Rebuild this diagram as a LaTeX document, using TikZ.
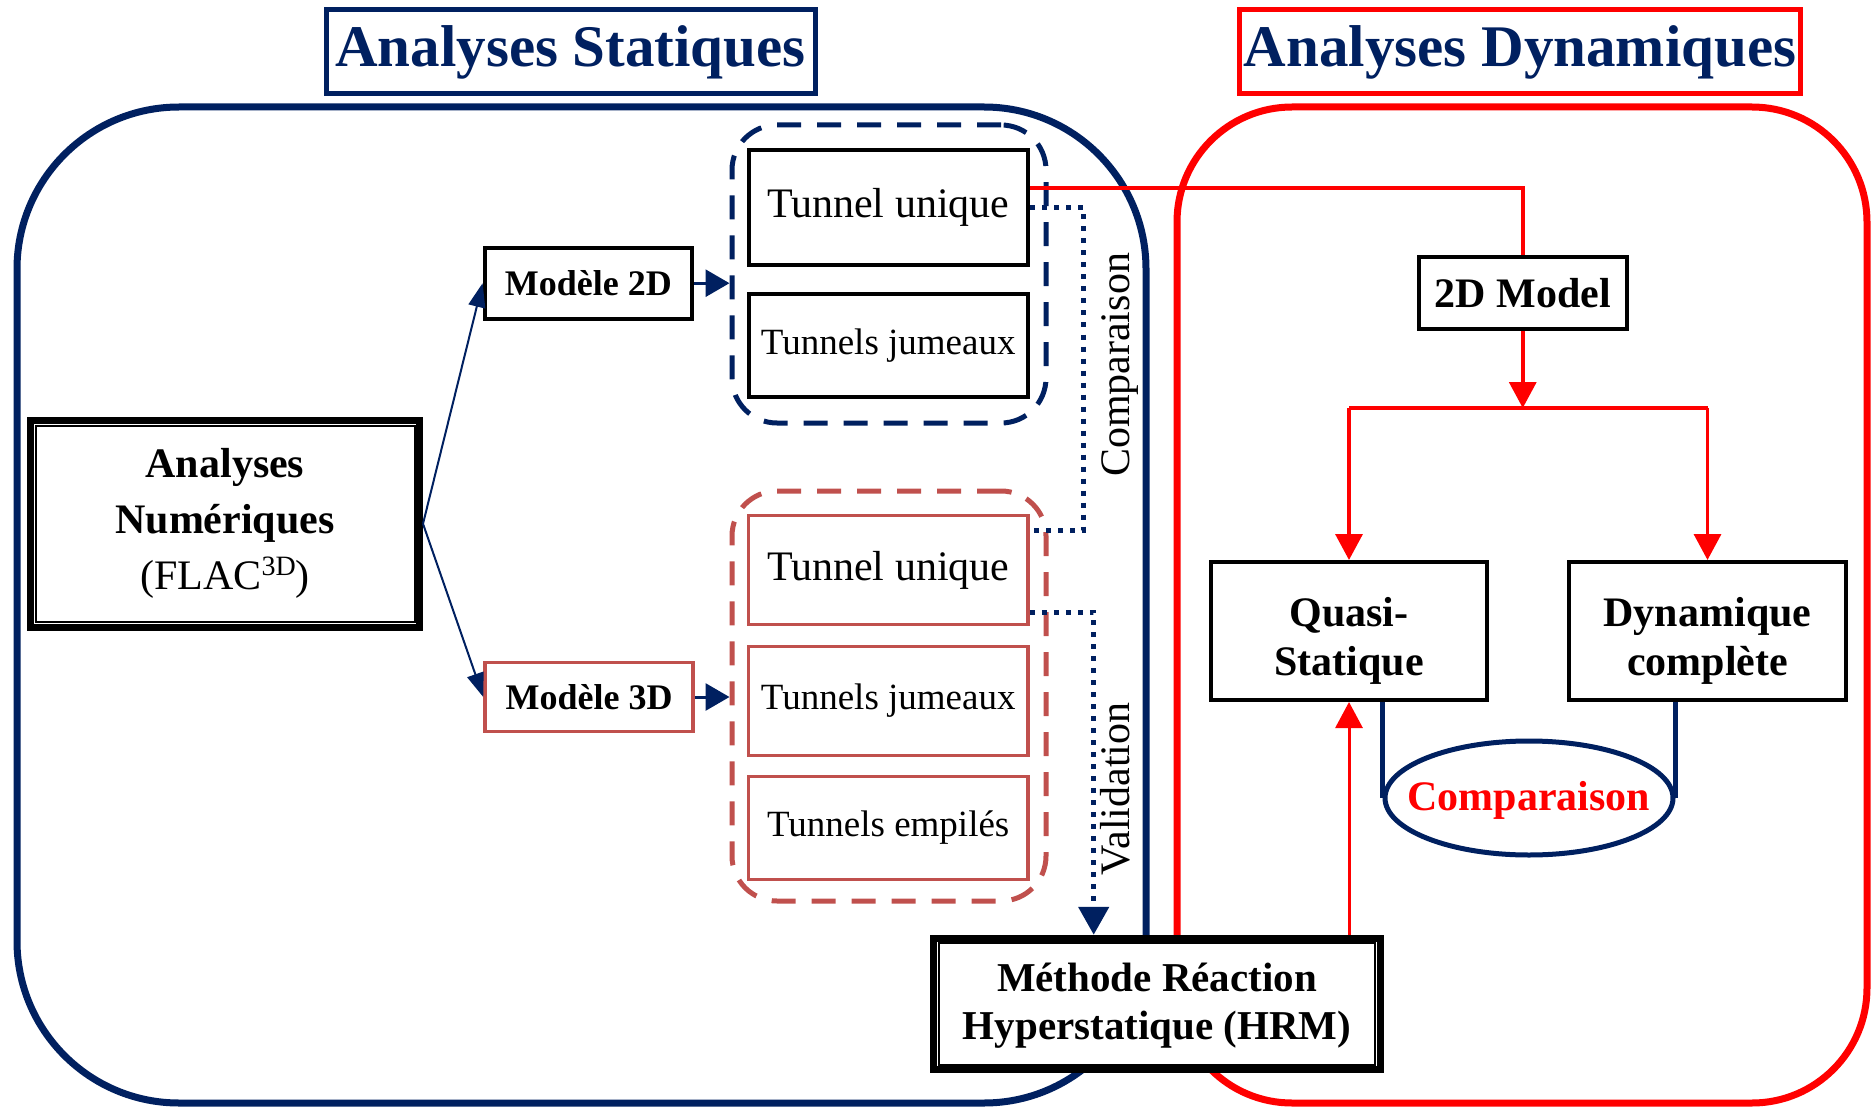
\documentclass[tikz,border=0pt]{standalone}
\usepackage{fontspec}
\setmainfont{Liberation Serif}
\usetikzlibrary{arrows.meta,shapes.geometric,calc}
\definecolor{navy}{HTML}{002060}
\definecolor{brick}{HTML}{C0504D}
\definecolor{pured}{HTML}{FF0000}
\begin{document}
\begin{tikzpicture}[x=1pt,y=-1pt,
  box/.style={draw=black, line width=4pt, fill=white, inner sep=0pt, align=center},
  redbox/.style={box, draw=brick, line width=3.5pt},
  titlebox/.style={line width=5pt, inner sep=0pt, text=navy, fill=white, font=\bfseries\fontsize{59}{62}\selectfont},
  fbig/.style={font=\fontsize{42}{50}\selectfont},
  fsmall/.style={font=\fontsize{37}{44}\selectfont},
  fbold/.style={font=\bfseries\fontsize{42}{49}\selectfont},
  plaintext/.style={inner sep=0pt, align=center},
  groupbox/.style={line width=5pt, dash pattern=on 24pt off 16pt, rounded corners=45pt, inner sep=0pt},
  dotline/.style={navy, line width=5pt, dash pattern=on 5pt off 7pt},
  navyarrow/.style={navy, line width=3pt, -{Triangle[length=24pt,width=27pt]}},
  thinarrow/.style={navy, line width=2pt, -{Triangle[length=24pt,width=17pt]}},
  redline/.style={pured, line width=3.5pt},
  redarrow/.style={pured, line width=3.5pt, -{Triangle[length=26pt,width=27pt]}},
  sidelabel/.style={rotate=90, anchor=base, inner sep=0pt, font=\fontsize{42}{50}\selectfont},
  innerframe/.style={line width=2pt}
]
\useasboundingbox (0,0) rectangle (1874,1107);

% big panels
\draw[navy, line width=7pt, rounded corners=162pt] (17,107) rectangle (1146,1103);
\draw[pured, line width=7pt, rounded corners=115pt] (1177,107) rectangle (1867,1103);

% titles
\node[titlebox, draw=navy, minimum width=489pt, minimum height=84pt] (ts) at (570.5,52) {Analyses Statiques};
\node[titlebox, draw=pured, minimum width=561pt, minimum height=84pt] (td) at (1520,52) {Analyses Dynamiques};

% left part
\node[box, line width=7pt, minimum width=389pt, minimum height=206.5pt, font=\fontsize{42}{56}\selectfont] (an) at (225,523.75)
  {\textbf{Analyses}\\\textbf{Numériques}\\(FLAC\raisebox{14pt}{\fontsize{28}{30}\selectfont 3D})};
\draw[innerframe] ($(an.north west)+(8.5,8.5)$) rectangle ($(an.south east)+(-8.5,-8.5)$);

\node[box, minimum width=207.6pt, minimum height=71pt, font=\bfseries\fontsize{36}{40}\selectfont] (m2d) at (588.4,283.2) {Modèle 2D};
\node[redbox, minimum width=208pt, minimum height=69pt, font=\bfseries\fontsize{36}{40}\selectfont] (m3d) at (589,697) {Modèle 3D};

\node[groupbox, draw=navy, minimum width=314pt, minimum height=298pt] (g2d) at (889,274) {};
\node[groupbox, draw=brick, minimum width=314pt, minimum height=410pt] (g3d) at (889,696) {};

\node[box, fbig, minimum width=279.5pt, minimum height=115pt] (tu1) at (888.25,207.5) {Tunnel unique};
\node[box, fsmall, minimum width=279.5pt, minimum height=103pt] (tj1) at (888.25,345.5) {Tunnels jumeaux};
\node[redbox, fbig, minimum width=279.5pt, minimum height=109pt] (tu2) at (888.25,570) {Tunnel unique};
\node[redbox, fsmall, minimum width=279.5pt, minimum height=109pt] (tj2) at (888.25,701) {Tunnels jumeaux};
\node[redbox, fsmall, minimum width=279.5pt, minimum height=103pt] (te2) at (888.25,828) {Tunnels empilés};

\draw[thinarrow] (an.east) -- (m2d.west);
\draw[thinarrow] (an.east) -- (m3d.west);
\draw[navyarrow] (m2d.east) -- (m2d.east -| g2d.west);
\draw[navyarrow] (m3d.east) -- (m3d.east -| g3d.west);

% HRM
\node[box, line width=7pt, minimum width=446.5pt, minimum height=131.5pt] (hrm) at (1157,1004) {};
\draw[innerframe] ($(hrm.north west)+(8.5,8.5)$) rectangle ($(hrm.south east)+(-8.5,-8.5)$);
\node[plaintext, font=\bfseries\fontsize{41}{48}\selectfont] (hrmt) at ($(hrm.center)+(0,2)$) {Méthode Réaction\\Hyperstatique (HRM)};

% comparison / validation dotted links
\draw[dotline] (tu1.east) -- ++(53,0) |- ([yshift=40pt]tu2.east);
\coordinate (vx) at (1093.7,0);
\draw[dotline, -{Triangle[length=28pt,width=30pt]}] ([yshift=-42pt]tu2.east) -| (vx |- hrm.north);
\node[sidelabel] (lc) at (1129,365) {Comparaison};
\node[sidelabel] (lv) at (1129,789) {Validation};

% right part
\node[box, fbold, minimum width=208.5pt, minimum height=71.5pt] (m2dm) at (1522.75,293.25) {2D Model};
\node[box, minimum width=276pt, minimum height=138pt] (qs) at (1349,631) {};
\node[plaintext, fbold] (qst) at ($(qs.center)+(0,10)$) {Quasi-\\Statique};
\node[box, minimum width=277pt, minimum height=138pt] (dc) at (1707.5,631) {};
\node[plaintext, fbold] (dct) at ($(dc.center)+(0,10)$) {Dynamique\\complète};
\node[ellipse, draw=navy, line width=5pt, inner sep=0pt, minimum width=288pt, minimum height=114pt] (cmp) at (1529,798) {};
\node[plaintext, text=pured, font=\bfseries\fontsize{42}{49}\selectfont] (cmpt) at ($(cmp.center)+(0,2)$) {Comparaison};

\draw[redline] ([yshift=19.5pt]tu1.east) -| (m2dm.north);
\coordinate (jn) at (1522.75,408);
\draw[redarrow] (m2dm.south) -- (jn);
\draw[redline] (qs.north |- jn) -- (dc.north |- jn);
\draw[redarrow] (qs.north |- jn) -- (qs.north);
\draw[redarrow] (dc.north |- jn) -- (dc.north);
\draw[redarrow, line width=3pt] (hrm.north -| qs.south) -- (qs.south);

\draw[navy, line width=4.5pt] (qs.south -| cmp.west) -- (cmp.west);
\draw[navy, line width=4.5pt] (dc.south -| cmp.east) -- (cmp.east);
\end{tikzpicture}
\end{document}
